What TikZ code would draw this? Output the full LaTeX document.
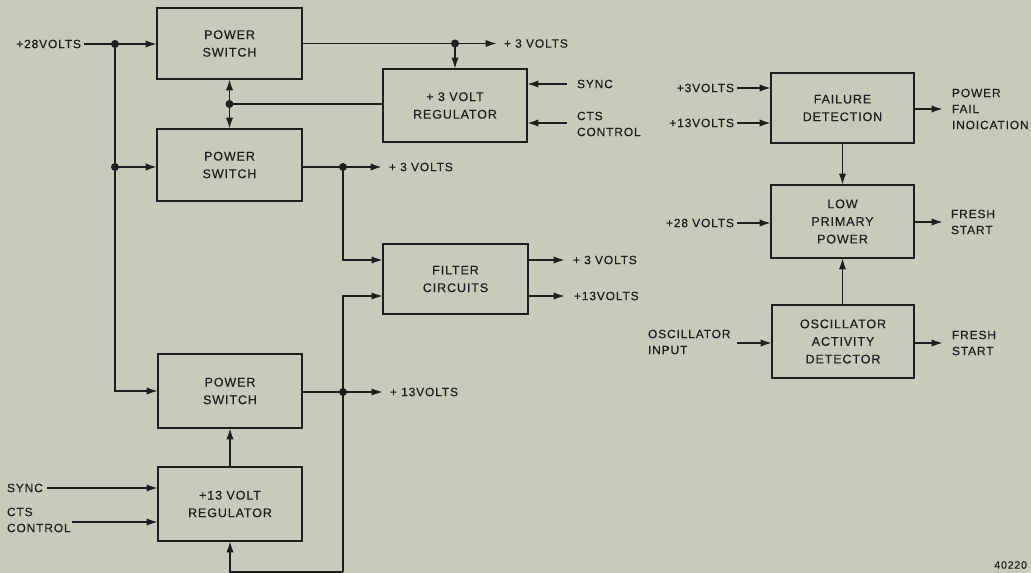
\documentclass[tikz,border=0pt]{standalone}
\usepackage{fontspec}
\setmainfont{Liberation Sans}[LetterSpace=7, FakeBold=0.4]
\usetikzlibrary{arrows.meta}
\definecolor{bg}{HTML}{C8CBBC}
\definecolor{ink}{HTML}{1E1E1C}
\begin{document}
\begin{tikzpicture}[x=0.75pt,y=-0.75pt,
  blk/.style={draw=ink, line width=1.8pt, inner sep=0pt, outer sep=0pt, align=center,
    text=ink, font=\fontsize{9.4}{13.2}\selectfont},
  lbl/.style={inner sep=0pt, outer sep=0pt, align=left, text=ink,
    font=\fontsize{9}{12}\selectfont},
  wire/.style={draw=ink, line width=1.4pt},
  arr/.style={wire, -{Latex[length=8.5pt,width=5.5pt]}},
  arrb/.style={wire, {Latex[length=8.5pt,width=5.5pt]}-{Latex[length=8.5pt,width=5.5pt]}},
  jdot/.style={circle, fill=ink, inner sep=0pt, outer sep=0pt, minimum size=6pt}]
\fill[bg] (0,0) rectangle (1031,573);
\useasboundingbox (0,0) rectangle (1031,573);

% blocks
\node[blk, minimum width=108.75pt, minimum height=53.25pt] (ps1) at (229.5,43.5) {POWER\\SWITCH};
\node[blk, minimum width=108.75pt, minimum height=54pt] (ps2) at (229.5,165) {POWER\\SWITCH};
\node[blk, minimum width=108pt, minimum height=55.5pt] (ps3) at (230,391) {POWER\\SWITCH};
\node[blk, minimum width=108pt, minimum height=55.5pt] (r13) at (230,504) {+13 VOLT\\REGULATOR};
\node[blk, minimum width=108pt, minimum height=54.75pt] (r3) at (455,105.5) {+ 3 VOLT\\REGULATOR};
\node[blk, minimum width=108.75pt, minimum height=52.5pt] (fil) at (455.5,279) {FILTER\\CIRCUITS};
\node[blk, minimum width=107.25pt, minimum height=52.5pt] (fd) at (842.5,108) {FAILURE\\DETECTION};
\node[blk, minimum width=107.25pt, minimum height=54.75pt] (lpp) at (842.5,221.5) {LOW\\PRIMARY\\POWER};
\node[blk, minimum width=106.5pt, minimum height=54.75pt] (oad) at (843,341.5) {OSCILLATOR\\ACTIVITY\\DETECTOR};

% junction dots
\node[jdot] (j1) at (115,44) {};
\node[jdot] (j2) at (115,167) {};
\node[jdot] (j3) at (229.5,104) {};
\node[jdot] (j4) at (455,43.5) {};
\node[jdot] (j5) at (343,167) {};
\node[jdot] (j6) at (343,392) {};
\coordinate (cb) at (343,572);

% left labels
\node[lbl, anchor=east] (l28) at (81,44) {+28VOLTS};
\node[lbl, anchor=west] (o1) at (504,43.5) {+ 3 VOLTS};
\node[lbl, anchor=west] (sy1) at (577,84) {SYNC};
\node[lbl, anchor=west] (ct1) at (577,124) {CTS\\CONTROL};
\node[lbl, anchor=west] (o2) at (389,167) {+ 3 VOLTS};
\node[lbl, anchor=west] (o3) at (573,260) {+ 3 VOLTS};
\node[lbl, anchor=west] (o4) at (574,296) {+13VOLTS};
\node[lbl, anchor=west] (o5) at (390,392) {+ 13VOLTS};
\node[lbl, anchor=west] (sy2) at (7,488) {SYNC};
\node[lbl, anchor=west] (ct2) at (7,520) {CTS\\CONTROL};

% right labels
\node[lbl, anchor=east] (i3) at (734,88) {+3VOLTS};
\node[lbl, anchor=east] (i13) at (734,123) {+13VOLTS};
\node[lbl, anchor=east] (i28) at (734,223) {+28 VOLTS};
\node[lbl, anchor=west] (osc) at (648,342) {OSCILLATOR\\INPUT};
\node[lbl, anchor=west] (pf) at (952,109) {POWER\\FAIL\\INOICATION};
\node[lbl, anchor=west] (fs1) at (951,222) {FRESH\\START};
\node[lbl, anchor=west] (fs2) at (952,343) {FRESH\\START};
\node[lbl, anchor=east, font=\fontsize{8}{9}\selectfont] (num) at (1027,565) {40220};

% free-end coordinates
\coordinate (e1) at (497,43.5);
\coordinate (s1) at (567,84);
\coordinate (s2) at (567,123);
\coordinate (e2) at (382,167);
\coordinate (e3) at (565,260);
\coordinate (e4) at (565,296);
\coordinate (e5) at (383,392);
\coordinate (s3) at (47,488);
\coordinate (s4) at (72,522);
\coordinate (s5) at (737,88);
\coordinate (s6) at (737,123);
\coordinate (s7) at (737,223);
\coordinate (s8) at (737,343);
\coordinate (e6) at (943,109);
\coordinate (e7) at (943,222);
\coordinate (e8) at (943,343);

% left half connectors
\draw[arr] ([xshift=2.5pt]l28.east) -- (ps1.west |- l28.east);
\draw[arr] (j1.center) |- (ps3.west);
\draw[arr] (j2.center) -- (ps2.west |- j2.center);
\draw[arrb] (ps1.south) -- (ps2.north);
\draw[wire] (j3.center) -- (r3.west |- j3.center);
\draw[arr] (ps1.east) -- (e1);
\draw[arr] (j4.center) -- (r3.north);
\draw[arr] (s1) -- (r3.east |- s1);
\draw[arr] (s2) -- (r3.east |- s2);
\draw[arr] (ps2.east |- j5.center) -- (e2);
\draw[arr] (j5.center) |- (fil.west |- e3);
\draw[arr] (cb) |- (fil.west |- e4);
\draw[arr] (fil.east |- e3) -- (e3);
\draw[arr] (fil.east |- e4) -- (e4);
\draw[arr] (ps3.east |- j6.center) -- (e5);
\draw[arr] (cb) -| (r13.south);
\draw[arr] (r13.north) -- (ps3.south);
\draw[arr] (s3) -- (r13.west |- s3);
\draw[arr] (s4) -- (r13.west |- s4);

% right half connectors
\draw[arr] (s5) -- (fd.west |- s5);
\draw[arr] (s6) -- (fd.west |- s6);
\draw[arr] (fd.east |- e6) -- (e6);
\draw[arr] (fd.south) -- (lpp.north);
\draw[arr] (s7) -- (lpp.west |- s7);
\draw[arr] (lpp.east |- e7) -- (e7);
\draw[arr] (oad.north -| lpp.south) -- (lpp.south);
\draw[arr] (s8) -- (oad.west |- s8);
\draw[arr] (oad.east |- e8) -- (e8);
\end{tikzpicture}
\end{document}
